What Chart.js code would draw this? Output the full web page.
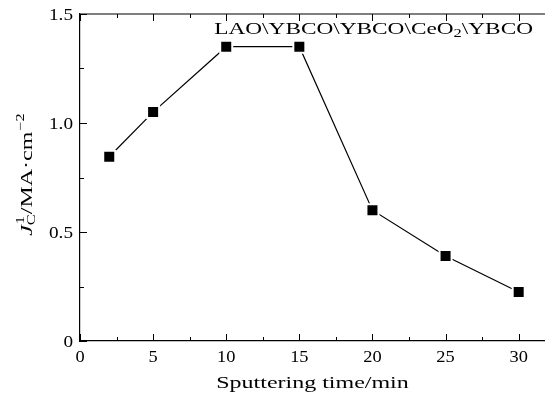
<!DOCTYPE html>
<html>
<head>
<meta charset="utf-8">
<script src="https://cdn.jsdelivr.net/npm/chart.js@4/dist/chart.umd.min.js"></script>
<style>
  html, body { margin: 0; padding: 0; background: #fff; overflow: hidden; }
</style>
</head>
<body>
<canvas id="myLineChart" width="545" height="399"></canvas>
<script>
// du lieu doc tu hinh
const sputterTime = [2, 5, 10, 15, 20, 25, 30];
const jcValues = [0.845, 1.05, 1.35, 1.35, 0.6, 0.39, 0.225];
const xMajorTicks = [0, 5, 10, 15, 20, 25, 30];
const xTickLabels = ["0", "5", "10", "15", "20", "25", "30"];
const yMajorTicks = [0, 0.5, 1.0, 1.5];
const yTickLabels = ["0", "0.5", "1.0", "1.5"];

const serif = "'Liberation Serif', 'DejaVu Serif', serif";
const WIDE = 1.37; // chu kieu Computer Modern rong hon Times

// ve chu keo gian ngang, tra ve do rong
const txt = (c, s, x, y, font, sx, align) => {
  c.save();
  c.font = font;
  const w = c.measureText(s).width * sx;
  const x0 = align === "center" ? x - w / 2 : align === "right" ? x - w : x;
  c.translate(x0, y);
  c.scale(sx, 1);
  c.textAlign = "left";
  c.textBaseline = "alphabetic";
  c.fillStyle = "#000";
  c.fillText(s, 0, 0);
  c.restore();
  return w;
};

const framePlugin = {
  id: "frame",
  afterDraw(chart) {
    const c = chart.ctx;
    const a = chart.chartArea;
    const xs = chart.scales.x;
    const ys = chart.scales.y;
    c.save();
    c.strokeStyle = "#000";
    c.lineWidth = 1.2;
    c.beginPath();
    c.moveTo(a.left, a.top);
    c.lineTo(a.right, a.top);
    c.stroke();

    // vach chia huong vao trong
    c.lineWidth = 1;
    c.beginPath();
    for (let v = 0; v <= 30; v += 2.5) {
      const px = Math.round(xs.getPixelForValue(v)) + 0.5;
      const len = v % 5 === 0 ? 7 : 4;
      c.moveTo(px, a.bottom);
      c.lineTo(px, a.bottom - len);
      c.moveTo(px, a.top);
      c.lineTo(px, a.top + len);
    }
    for (let v = 0; v <= 1.5001; v += 0.25) {
      const py = Math.round(ys.getPixelForValue(v)) + 0.5;
      const len = Math.abs(v * 2 - Math.round(v * 2)) < 1e-6 ? 7 : 4;
      c.moveTo(a.left, py);
      c.lineTo(a.left + len, py);
    }
    c.stroke();

    // nhan vach
    const tickFont = "16px " + serif;
    xMajorTicks.forEach((v, i) => {
      txt(c, xTickLabels[i], xs.getPixelForValue(v), 362, tickFont, 1.15, "center");
    });
    yMajorTicks.forEach((v, i) => {
      txt(c, yTickLabels[i], 73, ys.getPixelForValue(v) + 5.5, tickFont, 1.2, "right");
    });

    // nhan truc x
    txt(c, "Sputtering time/min", (a.left + a.right) / 2, 388, "17.5px " + serif, WIDE, "center");

    // chu thich mau
    const big = "17px " + serif;
    const small = "12px " + serif;
    c.font = big;
    const w1 = c.measureText("LAO\\YBCO\\YBCO\\CeO").width * WIDE;
    const w3 = c.measureText("\\YBCO").width * WIDE;
    c.font = small;
    const w2 = c.measureText("2").width * WIDE;
    let x = 533 - (w1 + w2 + w3);
    x += txt(c, "LAO\\YBCO\\YBCO\\CeO", x, 34, big, WIDE, "left");
    x += txt(c, "2", x, 37, small, WIDE, "left");
    txt(c, "\\YBCO", x, 34, big, WIDE, "left");

    // nhan truc y
    c.translate(32, 175);
    c.rotate(-Math.PI / 2);
    const fJ = "italic 17.5px " + serif;
    const fN = "17.5px " + serif;
    const fS = "12px " + serif;
    c.font = fJ; const wJ = c.measureText("J").width * WIDE;
    c.font = fS; const wC = c.measureText("C").width * WIDE;
    c.font = fN; const wM = c.measureText("/MA\u00B7cm").width * WIDE;
    c.font = fS; const wE = c.measureText("\u22122").width * WIDE;
    let tx = -(wJ + wC + wM + wE) / 2;
    tx += txt(c, "J", tx, 0, fJ, WIDE, "left");
    txt(c, "1", tx + 1, -8, fS, WIDE, "left");
    tx += txt(c, "C", tx, 3, fS, WIDE, "left");
    tx += txt(c, "/MA\u00B7cm", tx, 0, fN, WIDE, "left");
    txt(c, "\u22122", tx + 1, -8, fS, WIDE, "left");
    c.restore();
  }
};

const ctx = document.getElementById("myLineChart").getContext("2d");

new Chart(ctx, {
  type: "line",
  data: {
    datasets: [
      {
        data: sputterTime.map((t, i) => ({ x: t, y: jcValues[i] })),
        borderColor: "#000",
        borderWidth: 1.2,
        tension: 0,
        fill: false,
        pointStyle: "rect",
        pointRadius: 8.5,
        pointBackgroundColor: "#000",
        pointBorderColor: "#fff",
        pointBorderWidth: 2
      }
    ]
  },
  options: {
    responsive: false,
    animation: false,
    layout: { autoPadding: false, padding: { top: 14, left: 0, right: 0, bottom: 0 } },
    plugins: {
      legend: { display: false },
      tooltip: { enabled: false }
    },
    scales: {
      x: {
        type: "linear",
        min: 0,
        max: 31.8,
        afterFit: s => { s.height = 58; },
        afterBuildTicks: s => { s.ticks = xMajorTicks.map(v => ({ value: v })); },
        grid: { display: false },
        border: { display: true, color: "#000", width: 1.2 },
        ticks: { display: false }
      },
      y: {
        type: "linear",
        min: 0,
        max: 1.5,
        afterFit: s => { s.width = 80; },
        afterBuildTicks: s => { s.ticks = yMajorTicks.map(v => ({ value: v })); },
        grid: { display: false },
        border: { display: true, color: "#000", width: 1.2 },
        ticks: { display: false }
      }
    }
  },
  plugins: [framePlugin]
});
</script>
</body>
</html>
